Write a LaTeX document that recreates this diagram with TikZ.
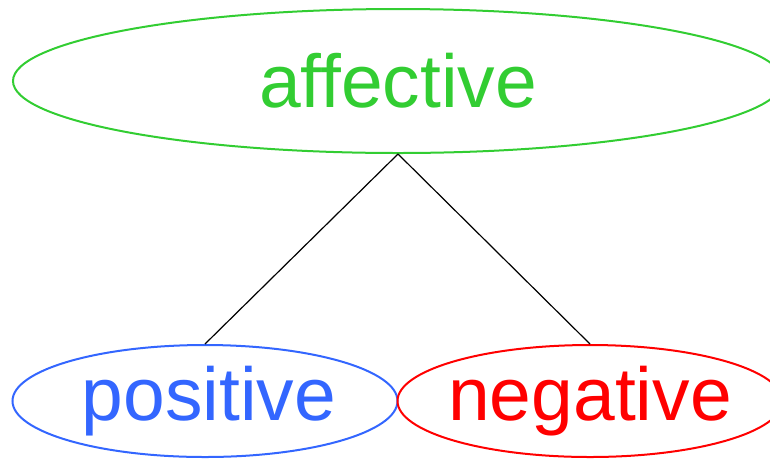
\documentclass[tikz,border=0pt]{standalone}
\usepackage{fontspec}
\setmainfont{Liberation Sans}
\usetikzlibrary{shapes.geometric}
\definecolor{leafgreen}{RGB}{50,205,50}
\definecolor{leafblue}{RGB}{51,102,255}
\definecolor{leafred}{RGB}{255,0,0}
% zero-width text box so the ellipse size comes only from minimum width/height
\newcommand{\ctext}[1]{\makebox[0pt]{#1}}
\begin{document}
\begin{tikzpicture}[x=1pt,y=-1pt,
  concept/.style={ellipse,draw,line width=2pt,inner sep=0pt,
    font=\fontsize{75}{80}\selectfont},
  link/.style={draw=black,line width=1.2pt}]
\useasboundingbox (0,0) rectangle (770,459);
\clip (0,0) rectangle (770,459);
\node[concept,draw=leafgreen,text=leafgreen,minimum width=770pt,minimum height=144pt]
  (aff) at (398,81) {\ctext{affective}};
\node[concept,draw=leafblue,text=leafblue,minimum width=385pt,minimum height=112pt]
  (pos) at (205,401) {\ctext{\hspace{8pt}positive}};
\node[concept,draw=leafred,text=leafred,minimum width=385pt,minimum height=112pt]
  (neg) at (590,401) {\ctext{negative}};
\draw[link] (aff.south) -- (pos.north);
\draw[link] (aff.south) -- (neg.north);
\end{tikzpicture}
\end{document}
